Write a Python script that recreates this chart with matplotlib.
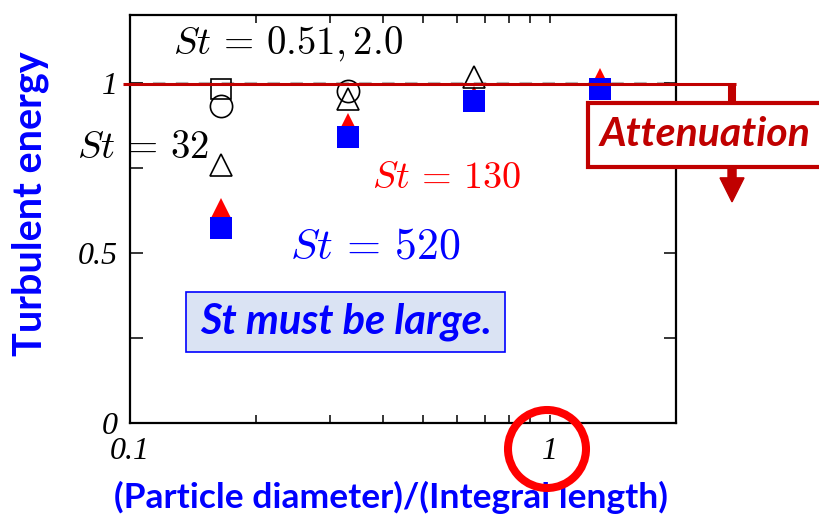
import numpy as np
import matplotlib
matplotlib.use("Agg")
import matplotlib.pyplot as plt
from matplotlib.patches import Rectangle, Ellipse, FancyArrow
from matplotlib.ticker import LogLocator, NullFormatter

# particle diameter / integral length
d_ratio = [0.165, 0.33, 0.66, 1.32]

# turbulent energy (normalised) for each Stokes number
st051_x = [0.165]
st051_y = [0.982]
st2_x = [0.165, 0.33]
st2_y = [0.932, 0.977]
st32_x = [0.165, 0.33, 0.66]
st32_y = [0.760, 0.953, 1.017]
st130_y = [0.630, 0.879, 0.960, 1.013]
st520_y = [0.575, 0.840, 0.948, 0.982]

x_ticks = [0.1, 1]
x_ticklabels = ["0.1", "1"]
y_ticks = [0, 0.5, 1]
y_ticklabels = ["0", "0.5", "1"]

DARKRED = "#C00000"
BLUE = "#0000FF"
RED = "#FF0000"

plt.rcParams["mathtext.fontset"] = "cm"
sans = ["Lato", "DejaVu Sans"]

fig = plt.figure(figsize=(8.19, 5.18), dpi=100)
ax = fig.add_axes([130 / 819, 95 / 518, 546 / 819, 408 / 518])

ax.set_xscale("log")
ax.set_xlim(0.1, 2.0)
ax.set_ylim(0, 1.2)

# reference level
ax.axhline(1.0, color="#b8b8b8", lw=1.5, ls=(0, (6, 5)), zorder=1)

# data
ax.plot(d_ratio, st130_y, "^", ms=16, color=RED, mew=0, zorder=3)
ax.plot(d_ratio, st520_y, "s", ms=15.5, color=BLUE, mew=0, zorder=4)
ax.plot(st051_x, st051_y, "s", ms=15, mfc="none", mec="black", mew=1.2, zorder=5)
ax.plot(st2_x, st2_y, "o", ms=16, mfc="none", mec="black", mew=1.2, zorder=5)
ax.plot(st32_x, st32_y, "^", ms=16, mfc="none", mec="black", mew=1.2, zorder=5)

# axes styling
for sp in ax.spines.values():
    sp.set_linewidth(1.6)
ax.set_xticks(x_ticks, x_ticklabels)
ax.xaxis.set_minor_locator(LogLocator(base=10, subs=np.arange(2, 10)))
ax.xaxis.set_minor_formatter(NullFormatter())
ax.set_yticks(y_ticks, y_ticklabels)
ax.set_yticks([0.25, 0.75], minor=True)
ax.tick_params(axis="x", which="both", direction="in", top=True, length=5.5, width=1.1, pad=10)
ax.tick_params(axis="y", which="both", direction="in", right=True, length=9, width=1.1, pad=9)
for lab in ax.get_xticklabels() + ax.get_yticklabels():
    lab.set_fontfamily("Liberation Serif")
    lab.set_fontstyle("italic")
    lab.set_fontsize(23)

# St annotations
ax.text(0.1266, 1.086, r"$St\,=\,0.51, 2.0$", fontsize=28, color="black", va="baseline")
ax.text(0.0748, 0.779, r"$St\,=\,32$", fontsize=28, color="black", va="baseline")
ax.text(0.377, 0.690, r"$St\,=\,130$", fontsize=27.5, color=RED, va="baseline")
ax.text(0.2403, 0.484, r"$St\,=\,520$", fontsize=31.5, color=BLUE, va="baseline")

# "St must be large." box
ax.add_patch(Rectangle((0.1026, 0.173), 0.5842, 0.149, transform=ax.transAxes,
                       facecolor="#DAE3F3", edgecolor=BLUE, lw=1.2, zorder=6))
ax.text(0.395, 0.2475, "St must be large.", transform=ax.transAxes, ha="center", va="center",
        fontsize=30, fontweight="bold", fontstyle="italic", color=BLUE, family=sans, zorder=7)

# attenuation indicator
ax.plot([-0.013, 1.11], [0.830, 0.830], transform=ax.transAxes, color=DARKRED, lw=2.2,
        clip_on=False, zorder=8, solid_capstyle="butt")
ax.plot([1.1026, 1.1026], [0.834, 0.785], transform=ax.transAxes, color=DARKRED, lw=5.8,
        clip_on=False, zorder=8, solid_capstyle="butt")
ax.add_patch(Rectangle((0.839, 0.628), 0.45, 0.157, transform=ax.transAxes, facecolor="white",
                       edgecolor=DARKRED, lw=3, clip_on=False, zorder=9))
ax.text(0.860, 0.706, "Attenuation", transform=ax.transAxes, ha="left", va="center",
        fontsize=29.5, fontweight="bold", fontstyle="italic", color=DARKRED, family=sans,
        zorder=10, clip_on=False)
ax.add_patch(FancyArrow(1.1026, 0.628, 0, -0.086, width=0.0147, head_width=0.044,
                        head_length=0.0588, length_includes_head=True, color=DARKRED,
                        transform=ax.transAxes, clip_on=False, zorder=9))

# axis labels
fig.text(30 / 819, 1 - 204 / 518, "Turbulent energy", rotation=90, ha="center", va="center",
         fontsize=28.5, fontweight="bold", color=BLUE, family=sans)
fig.text(391 / 819, 1 - 497 / 518, "(Particle diameter)/(Integral length)", ha="center",
         va="center", fontsize=25.5, fontweight="bold", color=BLUE, family=sans)

# highlight circle around x = 1
fig.add_artist(Ellipse((547 / 819, 1 - 449 / 518), 78 / 819, 78 / 518, transform=fig.transFigure,
                       fill=False, edgecolor=RED, lw=5.8, zorder=20))

fig.savefig("out.png", dpi=100)
